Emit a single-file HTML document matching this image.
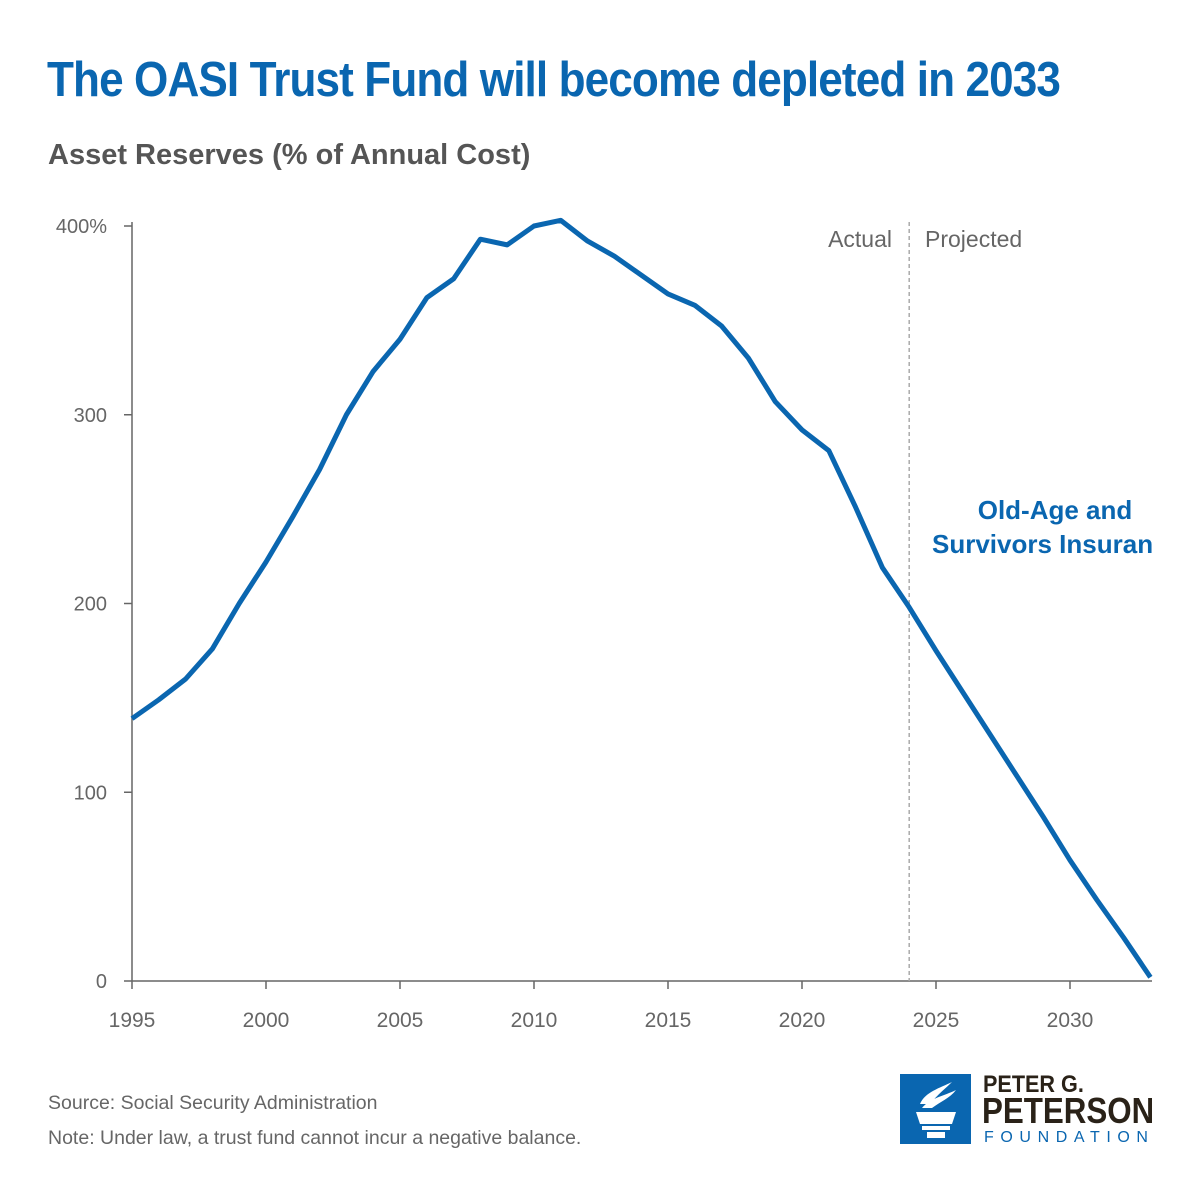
<!DOCTYPE html>
<html><head><meta charset="utf-8"><style>
body{margin:0;background:#fff;font-family:"Liberation Sans",sans-serif;}
#w{position:relative;width:1200px;height:1200px;overflow:hidden;background:#fff}
.t{position:absolute;white-space:nowrap}
</style></head><body>
<div id="w">
<div class="t" style="left:47px;top:52px;font-size:49px;font-weight:bold;color:#0a66b0;letter-spacing:-1px;transform:scaleX(0.9);transform-origin:left top">The OASI Trust Fund will become depleted in 2033</div>
<div class="t" style="left:48px;top:139px;font-size:29px;font-weight:bold;color:#555">Asset Reserves (% of Annual Cost)</div>
<svg id="c" width="1200" height="1200" style="position:absolute;left:0;top:0"></svg>
<div class="t" style="left:48px;top:1092px;font-size:19.5px;color:#666">Source: Social Security Administration</div>
<div class="t" style="left:48px;top:1127px;font-size:19.5px;color:#666">Note: Under law, a trust fund cannot incur a negative balance.</div>
<div style="position:absolute;left:900px;top:1074px;width:252px;height:72px;overflow:hidden">
<svg width="71" height="70" style="position:absolute;left:0;top:0"><rect width="71" height="70" fill="#0a66b0"/>
<path d="M20 30 C25 18,40 14,52 8 C46 14,38 20,30 30Z M22 34 C30 24,44 22,56 16 C50 24,40 28,32 34Z" fill="#fff"/>
<path d="M16 38 H56 L52 50 H20Z M22 52 H50 V56 H22Z M27 58 H45 V64 H27Z" fill="#fff"/></svg>
<div class="t" style="left:83px;top:-3px;font-size:24px;font-weight:bold;color:#2a2218;transform:scaleX(0.9);transform-origin:left top">PETER G.</div>
<div class="t" style="left:82px;top:16px;font-size:36px;font-weight:bold;color:#2a2218;transform:scaleX(0.87);transform-origin:left top">PETERSON</div>
<div class="t" style="left:84px;top:55px;font-size:16px;color:#0a66b0;letter-spacing:6.6px">FOUNDATION</div>
</div>
</div>
<script>
const years=[1995,1996,1997,1998,1999,2000,2001,2002,2003,2004,2005,2006,2007,2008,2009,2010,2011,2012,2013,2014,2015,2016,2017,2018,2019,2020,2021,2022,2023,2024,2025,2026,2027,2028,2029,2030,2031,2032,2033];
const reserves=[139,149,160,176,200,222,246,271,300,323,340,362,372,393,390,400,403,392,384,374,364,358,347,330,307,292,281,251,219,198,175,153,131,109,87,64,43,23,2];
const xTicks=[1995,2000,2005,2010,2015,2020,2025,2030];
const yTicks=[0,100,200,300,400];
const yLabels=["0","100","200","300","400%"];
const NS="http://www.w3.org/2000/svg",svg=document.getElementById('c');
const x=v=>132+(v-1995)*26.8, y=v=>981-v*1.8875;
function mk(t,a,p){const e=document.createElementNS(NS,t);for(const k in a)e.setAttribute(k,a[k]);(p||svg).appendChild(e);return e;}
let e=mk('line',{x1:132,y1:y(400)-4,x2:132,y2:981,stroke:'#666','stroke-width':1.5});


e=mk('line',{x1:132,y1:981,x2:1152,y2:981,stroke:'#666','stroke-width':1.5});


yTicks.forEach((v,i)=>{mk('line',{x1:124,y1:y(v),x2:132,y2:y(v),stroke:'#666','stroke-width':1.5});
 const t=mk('text',{x:107,y:y(v)+7,'text-anchor':'end','font-size':20,fill:'#666','font-family':'Liberation Sans'});t.textContent=yLabels[i];
 
 });
xTicks.forEach(v=>{mk('line',{x1:x(v),y1:981,x2:x(v),y2:989,stroke:'#666','stroke-width':1.5});
 const t=mk('text',{x:x(v),y:1027,'text-anchor':'middle','font-size':21,fill:'#666','font-family':'Liberation Sans'});t.textContent=v;
 
 });
e=mk('line',{x1:x(2024),y1:222,x2:x(2024),y2:981,stroke:'#aaa','stroke-width':1.5,'stroke-dasharray':'4,3'});


e=mk('text',{x:892,y:247,'text-anchor':'end','font-size':23,fill:'#666','font-family':'Liberation Sans'});e.textContent='Actual';


e=mk('text',{x:925,y:247,'font-size':23,fill:'#666','font-family':'Liberation Sans'});e.textContent='Projected';


e=mk('path',{d:years.map((v,i)=>(i?'L':'M')+x(v)+' '+y(reserves[i])).join(' '),fill:'none',stroke:'#0a66b0','stroke-width':5,'stroke-linejoin':'round'});


const g=mk('svg',{x:0,y:0,width:1152,height:1200});
e=mk('text',{x:1055,y:519,'text-anchor':'middle','font-size':26,'font-weight':'bold',fill:'#0a66b0','font-family':'Liberation Sans'},g);e.textContent='Old-Age and';


e=mk('text',{x:932,y:553,'font-size':26,'font-weight':'bold',fill:'#0a66b0','font-family':'Liberation Sans'},g);e.textContent='Survivors Insurance';


</script>
</body></html>
